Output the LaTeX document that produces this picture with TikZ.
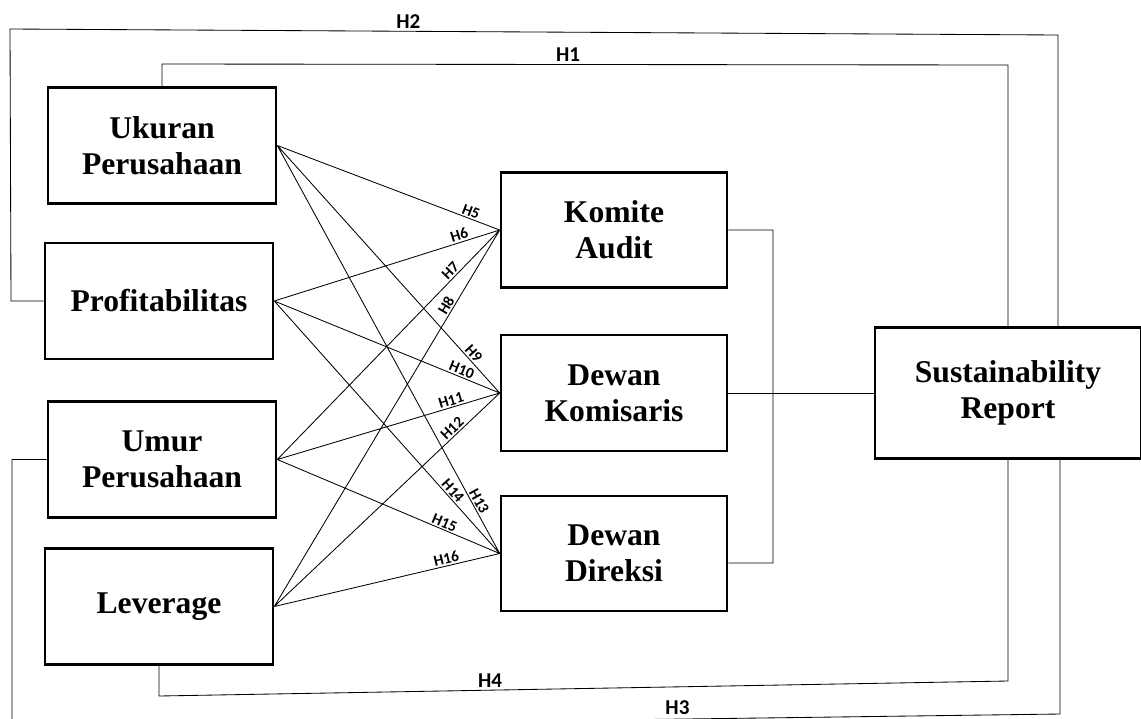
\documentclass[tikz,border=0pt]{standalone}
\usepackage{fontspec}
\setmainfont{Liberation Serif}
\newfontfamily\labfont{Carlito}

\tikzset{
    var/.style={draw, line width=1.8pt, align=center,
        minimum width=5.7cm, minimum height=2.9cm,
        font=\fontsize{22.5}{25.6}\selectfont\bfseries},
    link/.style={line width=0.6pt},
    hyp/.style={font=\labfont\fontsize{11}{12}\selectfont\bfseries,
        sloped, above, inner sep=1pt},
    hypbig/.style={font=\labfont\fontsize{15}{16}\selectfont\bfseries,
        above, inner sep=1.5pt}
}

\begin{document}
\begin{tikzpicture}[x=0.025cm, y=-0.025cm]
    \useasboundingbox (0,0) rectangle (1141,718);

    % independent variables
    \node[var] (uk) at (162,145.5) {Ukuran\\Perusahaan};
    \node[var] (pf) at (159,301) {Profitabilitas};
    \node[var] (um) at (162,459.5) {Umur\\Perusahaan};
    \node[var] (lv) at (159,606.5) {Leverage};

    % mediators
    \node[var, minimum width=5.65cm, minimum height=2.875cm] (ka) at (614,230) {Komite\\Audit};
    \node[var, minimum width=5.65cm, minimum height=2.9cm] (dk) at (614,393) {Dewan\\Komisaris};
    \node[var, minimum width=5.65cm, minimum height=2.875cm] (dd) at (614,553.5) {Dewan\\Direksi};

    % dependent variable
    \node[var, minimum width=6.65cm, minimum height=3.275cm] (sr) at (1008,393) {Sustainability\\Report};

    \draw[link]
        (uk.east) -- node[hyp, pos=0.86]{H5} (ka.west)
        (pf.east) -- node[hyp, pos=0.83]{H6} (ka.west)
        (um.east) -- node[hyp, pos=0.8]{H7} (ka.west)
        (lv.east) -- node[hyp, pos=0.79]{H8} (ka.west)
        (uk.east) -- node[hyp, pos=0.86]{H9} (dk.west)
        (pf.east) -- node[hyp, pos=0.82]{H10} (dk.west)
        (um.east) -- node[hyp, pos=0.79]{H11} (dk.west)
        (lv.east) -- node[hyp, pos=0.81]{H12} (dk.west)
        (uk.east) -- node[hyp, pos=0.88]{H13} (dd.west)
        (pf.east) -- node[hyp, pos=0.77]{H14} (dd.west)
        (um.east) -- node[hyp, pos=0.74]{H15} (dd.west)
        (lv.east) -- node[hyp, pos=0.77]{H16} (dd.west);

    \draw[link] (ka.east) -- (773,230) -- (773,563) -- ([yshift=-0.2375cm]dd.east);
    \draw[link] (dk.east) -- (sr.west);

    % direct paths
    \draw[link] (uk.north) -- (162,64) -- node[hypbig, pos=0.48]{H1} (1008,65) -- (sr.north);
    \draw[link] (pf.west) -- (11,301) -- (10,29) -- node[hypbig, pos=0.38]{H2} (1058,35) -- ([xshift=1.25cm]sr.north);
    \draw[link] (um.west) -- (12,459.5) -- (12,728) -- node[hypbig, pos=0.635, yshift=1.5pt]{H3} (1060,714) -- ([xshift=1.3cm]sr.south);
    \draw[link] (lv.south) -- (159,696) -- node[hypbig, pos=0.39]{H4} (1008,681) -- (sr.south);
\end{tikzpicture}
\end{document}
